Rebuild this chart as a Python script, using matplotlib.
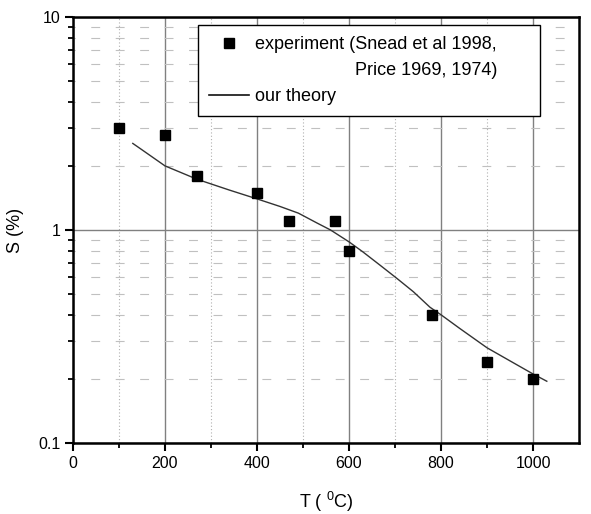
import numpy as np
import matplotlib.pyplot as plt
from matplotlib.lines import Line2D
from matplotlib.ticker import LogLocator, FixedLocator, NullFormatter

plt.rcParams['font.family'] = ['Liberation Sans', 'DejaVu Sans']
plt.rcParams['mathtext.fontset'] = 'custom'
plt.rcParams['mathtext.rm'] = 'Liberation Sans'

t_exp = [100, 200, 270, 400, 470, 570, 600, 780, 900, 1000]
s_exp = [3.0, 2.78, 1.79, 1.50, 1.10, 1.10, 0.80, 0.40, 0.24, 0.20]

# theory curve
t_th = [130, 150, 200, 270, 340, 400, 450, 490, 530, 560, 600, 630, 667,
        704, 740, 776, 800, 840, 900, 950, 1000, 1030]
s_th = [2.55, 2.38, 2.0, 1.73, 1.54, 1.40, 1.29, 1.20, 1.08, 1.0, 0.88, 0.79, 0.685,
        0.593, 0.513, 0.434, 0.40, 0.346, 0.28, 0.243, 0.211, 0.195]

x_major = [0, 200, 400, 600, 800, 1000]
x_minor = [100, 300, 500, 700, 900]

fig = plt.figure(figsize=(5.91, 5.14), dpi=100)
ax = fig.add_axes([0.1235, 0.1381, 0.8562, 0.8288])

ax.set_yscale('log')
ax.set_xlim(0, 1100)
ax.set_ylim(0.1, 10)

ax.xaxis.set_major_locator(FixedLocator(x_major))
ax.xaxis.set_minor_locator(FixedLocator(x_minor))
ax.yaxis.set_major_locator(LogLocator(base=10))
ax.yaxis.set_minor_locator(LogLocator(base=10, subs=np.arange(2, 10)))
ax.yaxis.set_minor_formatter(NullFormatter())
ax.yaxis.set_major_formatter(plt.FuncFormatter(lambda v, p: '{:g}'.format(v)))

# grids
ax.grid(True, which='major', axis='x', color='#808080', lw=1.0)
ax.grid(True, which='major', axis='y', color='#808080', lw=1.0)
ax.grid(True, which='minor', axis='x', color='#b0b0b0', lw=0.8, linestyle=(0, (1, 2)))
ax.grid(True, which='minor', axis='y', color='#c0c0c0', lw=0.8, linestyle=(6, (8, 14)))
ax.set_axisbelow(True)

ax.plot(t_th, s_th, color='#333333', lw=1.0, zorder=3)
ax.plot(t_exp, s_exp, 's', color='black', ms=6.5, zorder=4)

for sp in ax.spines.values():
    sp.set_linewidth(1.8)

ax.tick_params(which='major', direction='out', length=6, width=1.5, labelsize=11.5, pad=3)
ax.tick_params(which='minor', direction='out', length=3.5, width=1.3)

ax.set_xlabel(r'T ( $^{0}$C)', fontsize=13, labelpad=14)
ax.set_ylabel('S (%)', fontsize=13, labelpad=10)

# legend, second line of the experiment label as its own entry
h1 = Line2D([], [], marker='s', color='black', ls='none', ms=6.5)
h2 = Line2D([], [], color='none')
h3 = Line2D([], [], color='#111111', lw=1.2)
labels = ['experiment (Snead et al 1998,',
          '                    Price 1969, 1974)',
          'our theory']
leg = ax.legend([h1, h2, h3], labels, loc='upper left', mode='expand',
                bbox_to_anchor=(0.247, 0.5, 0.676, 0.481), borderaxespad=0,
                fontsize=13, fancybox=False, framealpha=1, edgecolor='black',
                handlelength=2.2, handletextpad=0.35, labelspacing=0.5,
                borderpad=0.6)
leg.get_frame().set_linewidth(1.0)

fig.savefig('out.png', dpi=100)
